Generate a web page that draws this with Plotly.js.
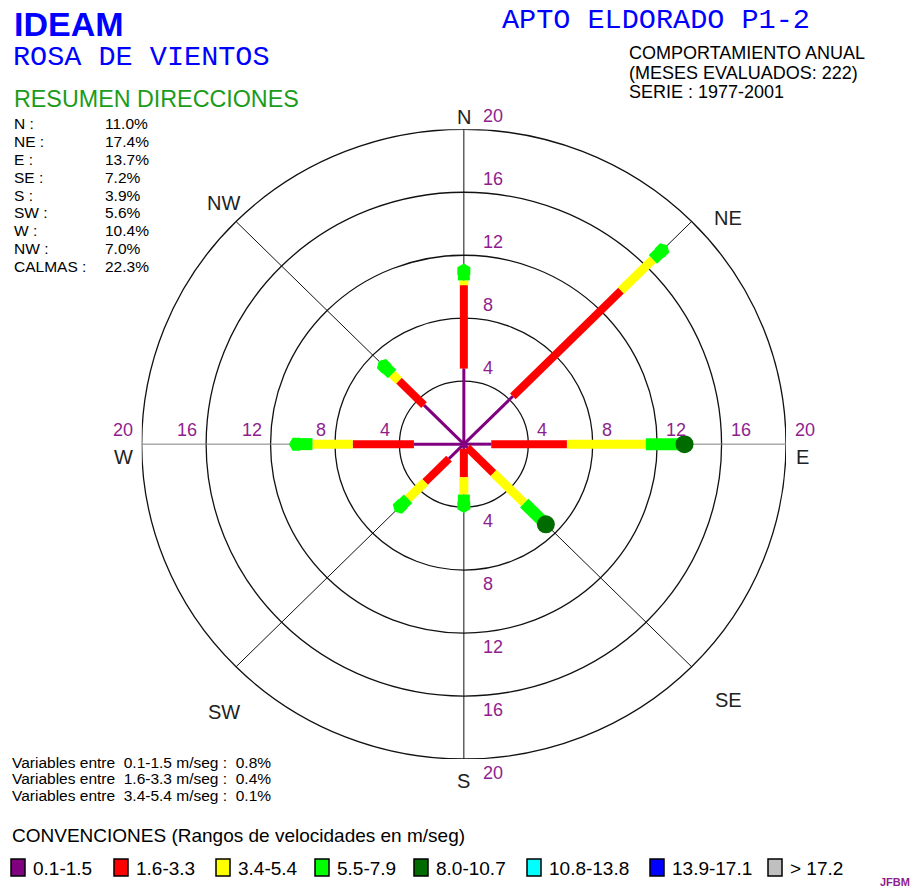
<!DOCTYPE html>
<html><head><meta charset="utf-8">
<script src="https://cdn.plot.ly/plotly-3.0.1.min.js"></script>
<style>html,body{margin:0;padding:0;background:#fff}#chart{width:914px;height:890px}</style>
</head><body><div id="chart"></div>
<script>
// ---------- DATA ----------
const directions = ["N","NE","E","SE","S","SW","W","NW"];
const dirLabels = ["N :","NE :","E :","SE :","S :","SW :","W :","NW :"];
const dirPct = [11.0,17.4,13.7,7.2,3.9,5.6,10.4,7.0];
const calmasPct = 22.3;
// percentage of each direction in each speed class (m/seg)
const cls_0_1_1_5  = [4.8,4.3,1.7,0.3,0.3,1.3,3.1,3.5];
const cls_1_6_3_3  = [5.3,9.5,4.7,2.3,1.8,2.1,3.8,2.2];
const cls_3_4_5_4  = [0.3,2.8,4.9,2.7,1.1,1.5,2.5,0.6];
const cls_5_5_7_9  = [0.6,0.8,2.2,1.6,0.7,0.7,1.0,0.7];
const cls_8_0_10_7 = [0,0,0.2,0.3,0,0,0,0];
const classLabels = ["0.1-1.5","1.6-3.3","3.4-5.4","5.5-7.9","8.0-10.7","10.8-13.8","13.9-17.1","> 17.2"];
const ringTicks = [4,8,12,16,20];
const varRanges = ["0.1-1.5","1.6-3.3","3.4-5.4"];
const varPct = [0.8,0.4,0.1];

// ---------- STYLE ----------
const classColors = ["#800080","#ff0000","#ffff00","#00ff00","#006c00","#00ffff","#0000ff","#c0c0c0"];
const classWidths = [3,8,9,12,14];
const bearings = [0,45,90,135,180,225,270,315];
const W = 914, H = 890;
const X = px => px / W, Y = py => 1 - py / H;
const purpleTxt = "#8e1e8e";

const series = [cls_0_1_1_5, cls_1_6_3_3, cls_3_4_5_4, cls_5_5_7_9, cls_8_0_10_7];
const traces = [];
const cum = directions.map(() => 0);
series.forEach((vals, k) => {
  const xs = [], ys = [];
  vals.forEach((v, d) => {
    if (v > 0) {
      const a = bearings[d] * Math.PI / 180;
      const r0 = cum[d], r1 = cum[d] + v;
      xs.push(r0 * Math.sin(a), r1 * Math.sin(a), null);
      ys.push(r0 * Math.cos(a), r1 * Math.cos(a), null);
      cum[d] = r1;
    }
  });
  traces.push({type:"scatter", mode:"lines", x:xs, y:ys, hoverinfo:"skip",
    line:{color:classColors[k], width:classWidths[k]}, showlegend:false});
});
// end caps
const ex = [], ey = [], ec = [], es = [], esz = [], ea = [];
directions.forEach((dname, d) => {
  let last = 0;
  series.forEach((vals, k) => { if (vals[d] > 0) last = k; });
  const a = bearings[d] * Math.PI / 180;
  ex.push(cum[d] * Math.sin(a)); ey.push(cum[d] * Math.cos(a));
  ec.push(classColors[last]);
  es.push(last >= 4 ? "circle" : "hexagon");
  esz.push(last >= 4 ? 18 : 15);
  ea.push(bearings[d]);
});
traces.push({type:"scatter", mode:"markers", x:ex, y:ey, hoverinfo:"skip", showlegend:false,
  marker:{color:ec, symbol:es, size:esz, angle:ea, opacity:1, line:{width:0}}});

// ---------- SHAPES ----------
const shapes = [];
ringTicks.forEach(r => shapes.push({type:"circle", xref:"x", yref:"y", x0:-r, y0:-r, x1:r, y1:r,
  line:{color:"#111", width:1.3}, layer:"below"}));
bearings.forEach(b => {
  const a = b * Math.PI / 180;
  const gray = (b === 90 || b === 270);
  shapes.push({type:"line", xref:"x", yref:"y", x0:0, y0:0, x1:20*Math.sin(a), y1:20*Math.cos(a),
    line:{color: gray ? "#808080" : "#111", width:1}, layer:"below"});
});
// legend squares
const legX = [11,114,216,315,414,527,650,768];
classLabels.forEach((lab, i) => {
  shapes.push({type:"rect", xref:"paper", yref:"paper", x0:X(legX[i]), x1:X(legX[i]+14), y0:Y(876), y1:Y(859),
    fillcolor:classColors[i], line:{color:"#000", width:1.5}});
});

// ---------- ANNOTATIONS ----------
const ann = [];
const A = (o) => ann.push(Object.assign({showarrow:false, xref:"paper", yref:"paper", xanchor:"left", yanchor:"middle"}, o));
A({x:X(12), y:Y(24), text:"<b>IDEAM</b>", font:{family:"Liberation Sans, Arial", size:34, color:"#0000ff"}});
A({x:X(11), y:Y(57), text:"ROSA DE VIENTOS", font:{family:"Liberation Mono, Courier New", size:28.5, color:"#0000ff"}});
A({x:X(500), y:Y(21), text:"APTO ELDORADO P1-2", font:{family:"Liberation Mono, Courier New", size:28.5, color:"#0000ff"}});
A({x:X(12), y:Y(99), text:"RESUMEN DIRECCIONES", font:{family:"Liberation Sans, Arial", size:23.3, color:"#1a9c1a"}});
const comp = ["COMPORTAMIENTO ANUAL","(MESES EVALUADOS: 222)","SERIE : 1977-2001"];
comp.forEach((t, i) => A({x:X(627), y:Y(53 + i*19.7), text:t, font:{family:"Liberation Sans, Arial", size:18, color:"#000"}}));
dirLabels.concat(["CALMAS :"]).forEach((t, i) => {
  A({x:X(12), y:Y(124 + i*17.8), text:t, font:{family:"Liberation Sans, Arial", size:15.5, color:"#000"}});
});
dirPct.concat([calmasPct]).forEach((v, i) => {
  A({x:X(103), y:Y(124 + i*17.8), text:v.toFixed(1) + "%", font:{family:"Liberation Sans, Arial", size:15.5, color:"#000"}});
});
varRanges.forEach((r, i) => {
  A({x:X(10), y:Y(762 + i*16.5), text:"Variables entre\u00a0\u00a0" + r + " m/seg :\u00a0\u00a0" + varPct[i].toFixed(1) + "%",
    font:{family:"Liberation Sans, Arial", size:15.5, color:"#000"}});
});
A({x:X(10), y:Y(835), text:"CONVENCIONES (Rangos de velocidades en m/seg)", font:{family:"Liberation Sans, Arial", size:19, color:"#000"}});
classLabels.forEach((lab, i) => {
  A({x:X(legX[i]+20), y:Y(868), text:lab, font:{family:"Liberation Sans, Arial", size:19, color:"#000"}});
});
A({x:X(878), y:Y(882), text:"<b>JFBM</b>", font:{family:"Liberation Sans, Arial", size:11, color:purpleTxt}});

// ring labels
const lf = {family:"Liberation Sans, Arial", size:18, color:purpleTxt};
ringTicks.forEach(r => {
  ann.push({showarrow:false, xref:"x", yref:"y", x:0, y:r, xshift:17, yshift:13, xanchor:"left", yanchor:"middle", text:String(r), font:lf});
  ann.push({showarrow:false, xref:"x", yref:"y", x:0, y:-r, xshift:17, yshift:-14, xanchor:"left", yanchor:"middle", text:String(r), font:lf});
  ann.push({showarrow:false, xref:"x", yref:"y", x:r, y:0, xshift:7, yshift:14, xanchor:"left", yanchor:"middle", text:String(r), font:lf});
  ann.push({showarrow:false, xref:"x", yref:"y", x:-r, y:0, xshift:-7, yshift:14, xanchor:"right", yanchor:"middle", text:String(r), font:lf});
});
// compass labels
const cf = {family:"Liberation Sans, Arial", size:20, color:"#222"};
const compass = [
  ["N", 0, 20, 0, 12], ["S", 0, -20, 0, -22], ["E", 20, 0, 16, -13], ["W", -20, 0, -18, -13],
  ["NE", 16.4, 14.35, 0, 0], ["NW", -14.9, 15.3, 0, 0], ["SE", 16.4, -16.25, 0, 0], ["SW", -14.9, -17.0, 0, 0]
];
compass.forEach(c => ann.push({showarrow:false, xref:"x", yref:"y", x:c[1], y:c[2], xshift:c[3], yshift:c[4],
  xanchor:"center", yanchor:"middle", text:c[0], font:cf}));

const layout = {
  width:W, height:H, margin:{l:0,r:0,t:0,b:0}, paper_bgcolor:"#fff", plot_bgcolor:"#fff",
  showlegend:false,
  xaxis:{range:[-20,20], domain:[141.7/W, 786/W], visible:false, fixedrange:true},
  yaxis:{range:[-20,20], domain:[(H-759)/H, (H-129.3)/H], visible:false, fixedrange:true},
  shapes:shapes, annotations:ann
};
Plotly.newPlot("chart", traces, layout, {staticPlot:true, displayModeBar:false});
</script></body></html>
